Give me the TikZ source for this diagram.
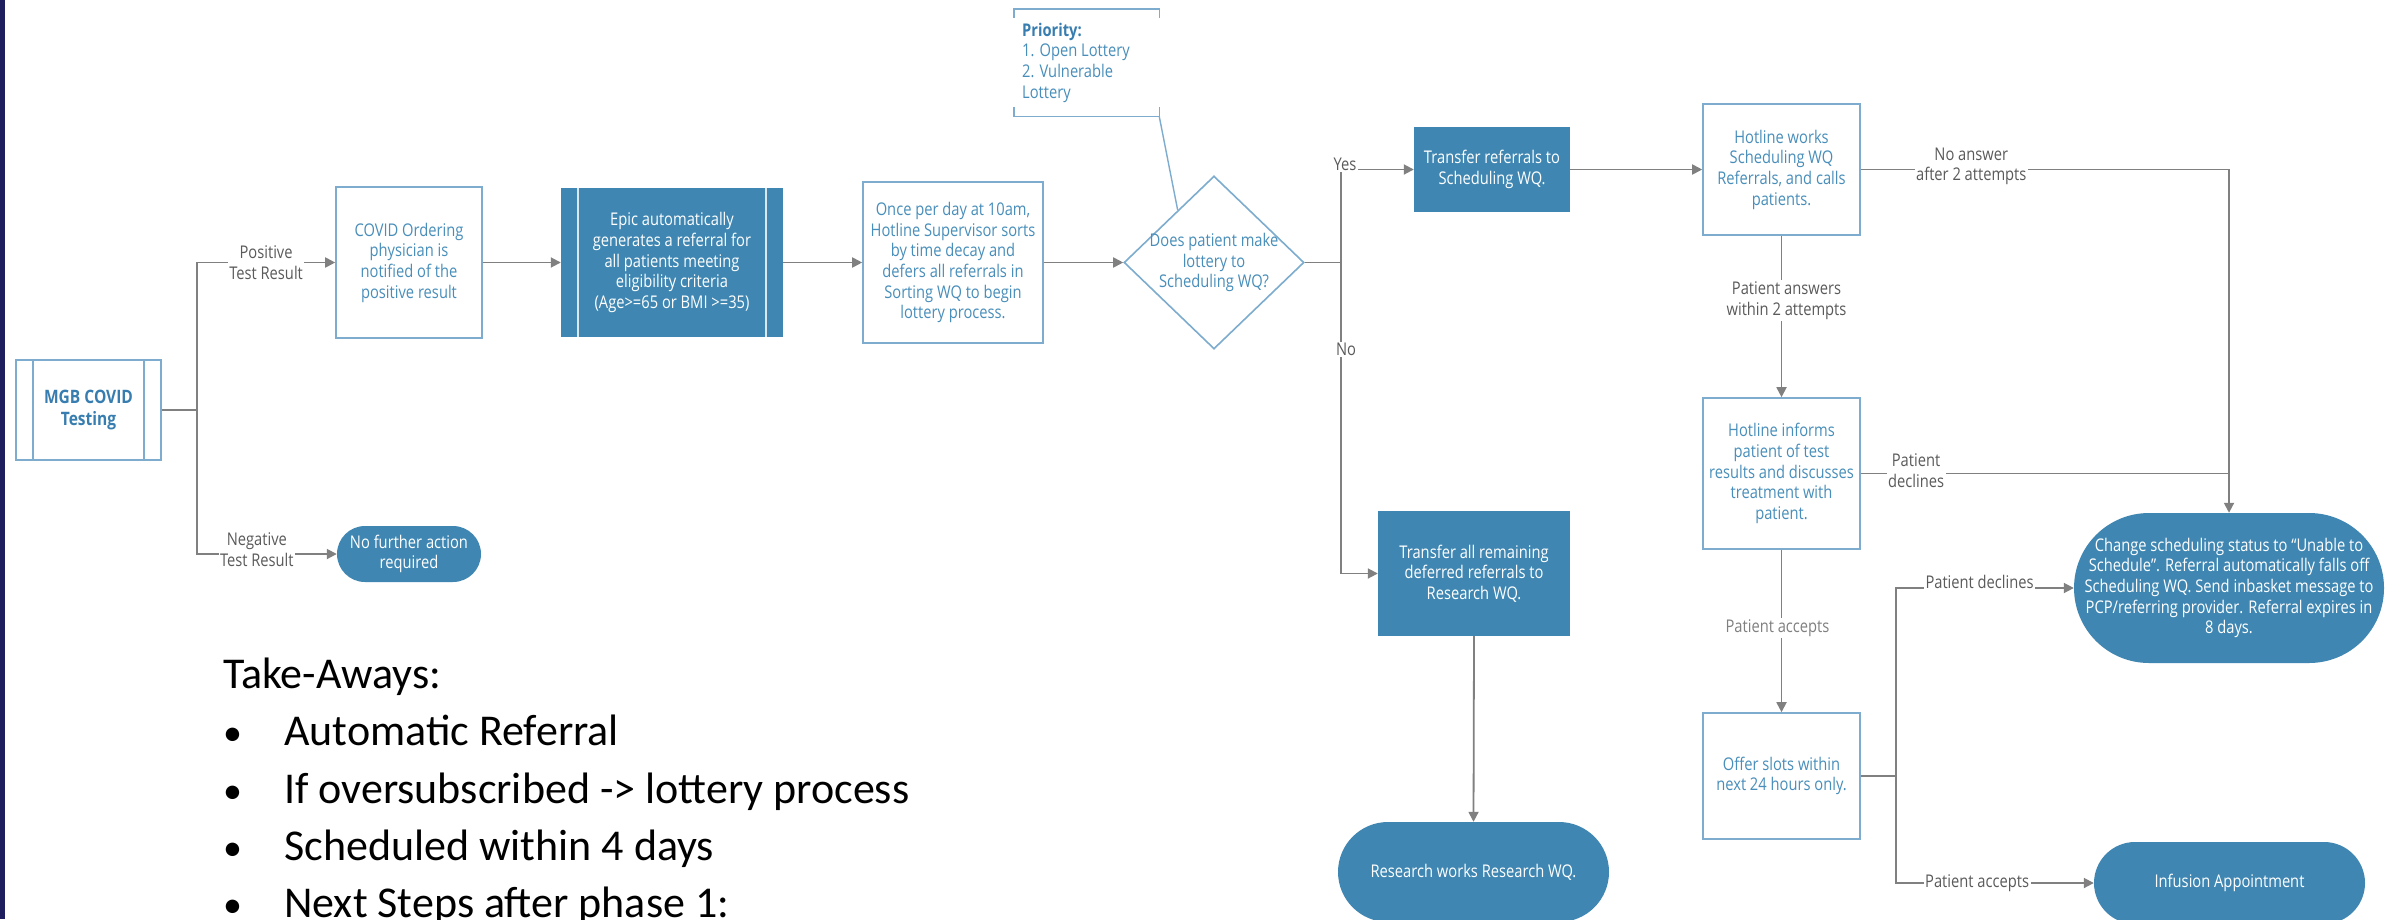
\documentclass[tikz,border=0pt]{standalone}
\usepackage{fontspec}
\usetikzlibrary{arrows.meta,shapes.geometric,calc}
\newfontfamily\dfont[FakeStretch=0.84]{Open Sans}
\newfontfamily\tkfont{Carlito}
\definecolor{fillblue}{RGB}{63,135,178}
\definecolor{bordblue}{RGB}{125,172,206}
\definecolor{txtblue}{RGB}{72,142,186}
\definecolor{hdblue}{RGB}{55,125,175}
\definecolor{lgray}{RGB}{128,128,128}
\definecolor{lblgray}{RGB}{90,90,90}
\definecolor{navy}{RGB}{30,30,95}
\begin{document}
\begin{tikzpicture}[x=1pt,y=-1pt,
  every node/.style={inner sep=0pt},
  dtxt/.style={font=\dfont\fontsize{17.5pt}{20.7pt}\selectfont, align=center},
  wbox/.style={dtxt, draw=bordblue, line width=1.6pt, fill=white, text=txtblue},
  fbox/.style={dtxt, fill=fillblue, text=white},
  pill/.style={fbox, rounded corners=#1},
  conn/.style={draw=lgray, line width=1.8pt, -{Triangle[length=10pt,width=10pt]}},
  plain/.style={draw=lgray, line width=1.8pt},
  lbl/.style={dtxt, fill=white, text=lblgray, inner sep=1.5pt},
  tk/.style={font=\tkfont\fontsize{44pt}{52pt}\selectfont, text=black, anchor=base west}
]
\useasboundingbox (0,0) rectangle (2387,919);
\fill[white] (0,0) rectangle (2387,919);
\fill[navy] (0,0) rectangle (5,919);

% nodes
\node[wbox, minimum width=145pt, minimum height=100pt, text=hdblue,
      font=\dfont\bfseries\fontsize{18.5pt}{22pt}\selectfont] (mgb) at (88.5,410) {MGB COVID\\Testing};
\draw[bordblue, line width=1.6pt] ([xshift=18pt]mgb.north west) -- ([xshift=18pt]mgb.south west);
\draw[bordblue, line width=1.6pt] ([xshift=-18pt]mgb.north east) -- ([xshift=-18pt]mgb.south east);

\node[wbox, minimum width=146pt, minimum height=151pt] (covid) at (409,262.5) {COVID Ordering\\physician is\\notified of the\\positive result};

\node[fbox, minimum width=222pt, minimum height=149pt] (epic) at (672,262.5) {Epic automatically\\generates a referral for\\all patients meeting\\eligibility criteria\\(Age>=65 or BMI >=35)};
\draw[white!80!fillblue, line width=1.5pt] ([xshift=17pt]epic.north west) -- ([xshift=17pt]epic.south west);
\draw[white!80!fillblue, line width=1.5pt] ([xshift=-17pt]epic.north east) -- ([xshift=-17pt]epic.south east);

\node[wbox, minimum width=180pt, minimum height=161pt] (once) at (953,262.5) {Once per day at 10am,\\Hotline Supervisor sorts\\by time decay and\\defers all referrals in\\Sorting WQ to begin\\lottery process.};

\node[diamond, draw=bordblue, line width=1.6pt, fill=white, minimum width=180pt, minimum height=173pt] (dia) at (1214,262.5) {};
\node[dtxt, text=txtblue] (diatxt) at (1214,262.5) {Does patient make\\lottery to\\Scheduling WQ?};

\node[minimum width=145pt, minimum height=107pt] (prio) at (1086.5,62.5) {};
\draw[bordblue, line width=1.4pt] ([yshift=-9pt]prio.north west) -- (prio.north west) -- (prio.north east) -- ([yshift=-9pt]prio.north east);
\draw[bordblue, line width=1.4pt] ([yshift=9pt]prio.south west) -- (prio.south west) -- (prio.south east) -- ([yshift=9pt]prio.south east);
\node[dtxt, align=left, text=txtblue, anchor=west] (priotxt) at (1022,62.5) {{\bfseries\color{hdblue}Priority:}\\1. Open Lottery\\2. Vulnerable\\Lottery};
\draw[bordblue, line width=1.4pt] (prio.south east) -- ($(dia.west)!0.6!(dia.north)$);

\node[fbox, minimum width=156pt, minimum height=85pt] (t1) at (1492,169.5) {Transfer referrals to\\Scheduling WQ.};
\node[wbox, minimum width=157pt, minimum height=131pt] (hw) at (1781.5,169.5) {Hotline works\\Scheduling WQ\\Referrals, and calls\\patients.};
\node[wbox, minimum width=157pt, minimum height=151pt] (hi) at (1781.5,473.5) {Hotline informs\\patient of test\\results and discusses\\treatment with\\patient.};
\node[wbox, minimum width=157pt, minimum height=126pt] (offer) at (1781.5,776) {Offer slots within\\next 24 hours only.};
\node[fbox, minimum width=192pt, minimum height=125pt] (t2) at (1474,573.5) {Transfer all remaining\\deferred referrals to\\Research WQ.};
\node[pill=50pt, minimum width=271pt, minimum height=100pt] (research) at (1473.5,872) {Research works Research WQ.};
\node[pill=75pt, minimum width=310pt, minimum height=150pt] (change) at (2229,588) {Change scheduling status to “Unable to\\Schedule”. Referral automatically falls off\\Scheduling WQ. Send inbasket message to\\PCP/referring provider. Referral expires in\\8 days.};
\node[pill=41pt, minimum width=271pt, minimum height=82pt] (inf) at (2229.5,883) {Infusion Appointment};
\node[pill=28pt, minimum width=144pt, minimum height=56pt] (nfa) at (409,554) {No further action\\required};

\coordinate (j1) at (197,410);
\coordinate (j2) at (1341,262.5);
\coordinate (j3) at (1896,776);

% connectors
\draw[plain] (mgb.east) -- (j1);
\draw[conn] (j1) |- (covid.west) node[lbl, pos=0.75] (lpos) {Positive\\Test Result};
\draw[conn] (j1) |- (nfa.west) node[lbl, pos=0.714, yshift=4pt] (lneg) {Negative\\Test Result};
\draw[conn] (covid.east) -- (epic.west);
\draw[conn] (epic.east) -- (once.west);
\draw[conn] (once.east) -- (dia.west);
\draw[plain] (dia.east) -- (j2);
\draw[conn] (j2) |- (t1.west) node[lbl, pos=0.5, xshift=4pt, yshift=5pt] (lyes) {Yes};
\draw[conn] (j2) |- (t2.west) node[lbl, pos=0.14, xshift=5pt] (lno) {No};
\draw[conn] (t1.east) -- (hw.west);
\draw[conn] (hw.south) -- (hi.north) node[lbl, pos=0.4, xshift=5pt] (lans) {Patient answers\\within 2 attempts};
\draw[conn] (hw.east) -| (change.north) node[lbl, pos=0.15, yshift=3pt] (lnoans) {No answer\\after 2 attempts};
\draw[plain] (hi.east) -- (hi.east -| change.north) node[lbl, pos=0.15, yshift=3pt] (ldec1) {Patient\\declines};
\draw[conn] (hi.south) -- (offer.north) node[lbl, pos=0.48, xshift=-4pt, text=lgray] (lacc1) {Patient accepts};
\draw[plain] (offer.east) -- (j3);
\draw[conn] (j3) |- (change.west) node[lbl, pos=0.735, yshift=6pt] (ldec2) {Patient declines};
\draw[conn] (j3) |- (inf.west) node[lbl, pos=0.705] (lacc2) {Patient accepts};
\draw[conn] (t2.south) -- (research.north);

% take-aways
\node[tk] (tka) at (223,688) {Take-Aways:};
\node[tk, font=\tkfont\fontsize{38pt}{44pt}\selectfont] (bu1) at (223,745) {•};
\node[tk] (tk1) at (284,745) {Automatic Referral};
\node[tk, font=\tkfont\fontsize{38pt}{44pt}\selectfont] (bu2) at (223,803) {•};
\node[tk] (tk2) at (284,803) {If oversubscribed -> lottery process};
\node[tk, font=\tkfont\fontsize{38pt}{44pt}\selectfont] (bu3) at (223,860) {•};
\node[tk] (tk3) at (284,860) {Scheduled within 4 days};
\node[tk, font=\tkfont\fontsize{38pt}{44pt}\selectfont] (bu4) at (223,917) {•};
\node[tk] (tk4) at (284,917) {Next Steps after phase 1:};
\end{tikzpicture}
\end{document}
